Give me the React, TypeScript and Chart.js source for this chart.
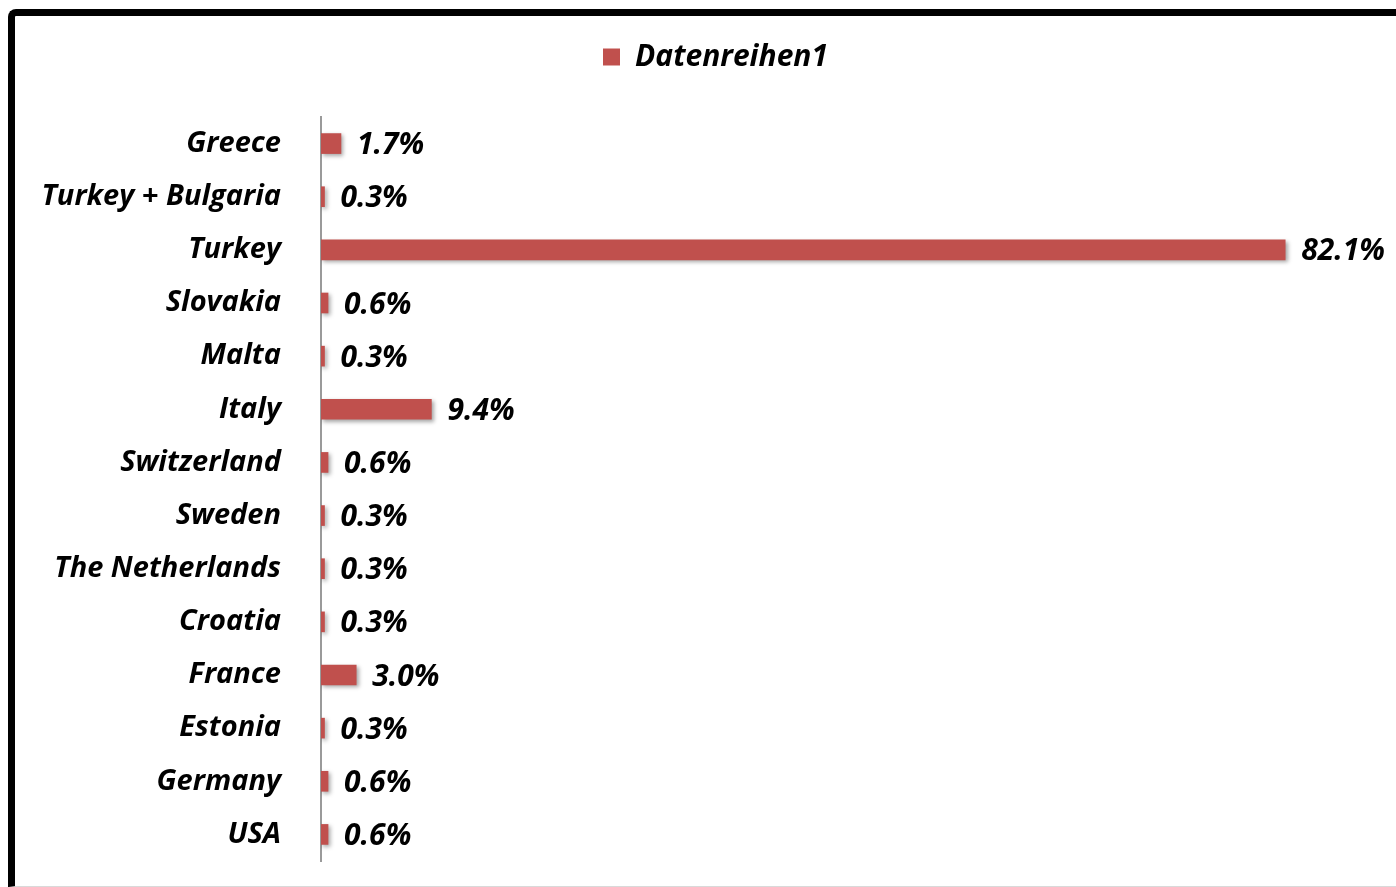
import React, { useEffect, useRef } from "react";
import { Chart, registerables } from "chart.js";

Chart.register(...registerables);

const categories = [
  "Greece",
  "Turkey + Bulgaria",
  "Turkey",
  "Slovakia",
  "Malta",
  "Italy",
  "Switzerland",
  "Sweden",
  "The Netherlands",
  "Croatia",
  "France",
  "Estonia",
  "Germany",
  "USA",
];
const values = [1.7, 0.3, 82.1, 0.6, 0.3, 9.4, 0.6, 0.3, 0.3, 0.3, 3.0, 0.3, 0.6, 0.6];
const seriesName = "Datenreihen1";
const axisMax = 90;

const FONT = "'Open Sans', 'Noto Sans', sans-serif";
const LABEL_SIZE = 29;
const VALUE_SIZE = 30;

export default function App() {
  const ref = useRef<HTMLCanvasElement | null>(null);

  useEffect(() => {
    document.body.style.overflow = "hidden";
    const canvas = ref.current;
    if (!canvas) return;

    const shadowPlugin = {
      id: "barShadow",
      beforeDatasetsDraw(chart: any) {
        const ctx = chart.ctx;
        ctx.save();
        ctx.shadowColor = "rgba(0,0,0,0.35)";
        ctx.shadowBlur = 4;
        ctx.shadowOffsetX = 2;
        ctx.shadowOffsetY = 2;
      },
      afterDatasetsDraw(chart: any) {
        const ctx = chart.ctx;
        ctx.restore();
        const meta = chart.getDatasetMeta(0);
        ctx.save();
        ctx.font = `italic bold ${VALUE_SIZE}px ${FONT}`;
        ctx.fillStyle = "#000";
        ctx.textAlign = "left";
        ctx.textBaseline = "middle";
        meta.data.forEach((bar: any, i: number) => {
          const v = chart.data.datasets[0].data[i] as number;
          ctx.fillText(`${v.toFixed(1)}%`, bar.x + 16, bar.y + 2);
        });
        ctx.restore();
      },
    };

    const legendSpacer = {
      id: "legendSpacer",
      beforeInit(chart: any) {
        const orig = chart.legend.fit;
        chart.legend.fit = function () {
          orig.call(this);
          this.height += 35;
        };
      },
      afterLayout(chart: any) {
        chart.legend.left += 19;
        chart.legend.right += 19;
      },
    };

    const chart = new Chart(canvas, {
      type: "bar",
      data: {
        labels: categories,
        datasets: [
          {
            label: seriesName,
            data: values,
            backgroundColor: "#C0504D",
            borderWidth: 0,
            barThickness: 20,
          },
        ],
      },
      plugins: [legendSpacer, shadowPlugin],
      options: {
        indexAxis: "y",
        animation: false,
        responsive: false,
        maintainAspectRatio: false,
        layout: { padding: { top: 16, bottom: 25, left: 0, right: 18 } },
        plugins: {
          legend: {
            display: true,
            position: "top",
            labels: {
              boxWidth: 17,
              boxHeight: 17,
              padding: 10,
              color: "#000",
              font: { family: FONT, size: VALUE_SIZE, weight: "bold", style: "italic" },
            },
          },
          tooltip: { enabled: false },
        },
        scales: {
          x: {
            display: false,
            min: 0,
            max: axisMax,
          },
          y: {
            afterFit(scale: any) {
              scale.width = 306;
              scale.paddingTop = 0;
              scale.paddingBottom = 0;
            },
            grid: { display: false, drawTicks: false },
            border: { display: true, color: "#9a9a9a", width: 2 },
            ticks: {
              padding: 40,
              color: "#000",
              font: { family: FONT, size: LABEL_SIZE, weight: "bold", style: "italic" },
            },
          },
        },
      },
    } as any);

    return () => chart.destroy();
  }, []);

  return (
    <div
      style={{
        position: "absolute",
        left: 8,
        top: 9,
        width: 1388,
        height: 878,
        boxSizing: "border-box",
        borderLeft: "7px solid #000",
        borderTop: "7px solid #000",
        borderBottom: "1px solid #d9d9d9",
        borderTopLeftRadius: 8,
        background: "#fff",
      }}
    >
      <canvas ref={ref} width={1381} height={870} style={{ display: "block" }} />
    </div>
  );
}
